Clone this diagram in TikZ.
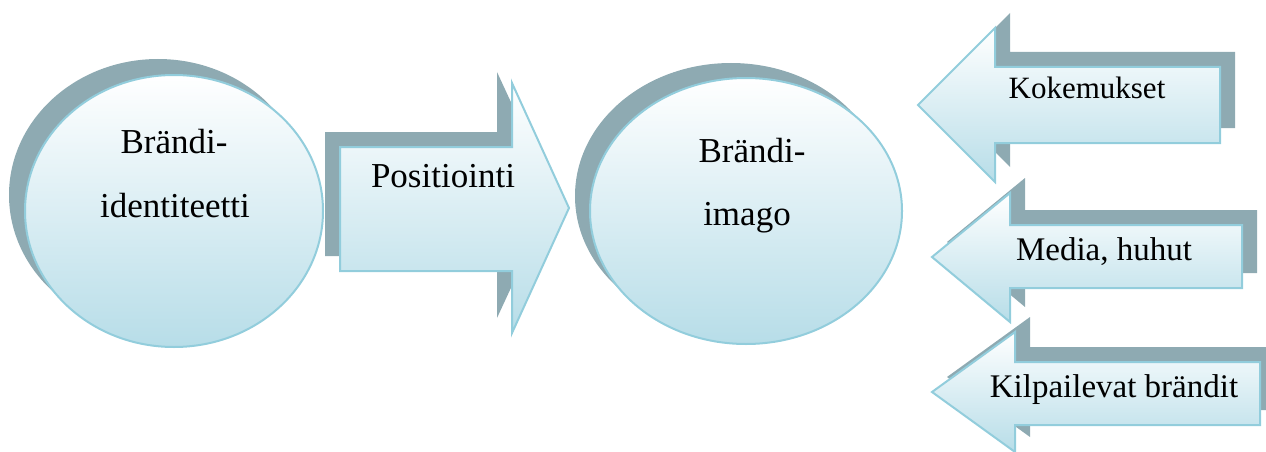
\documentclass[tikz,border=0pt]{standalone}
\usepackage{fontspec}
\setmainfont{Liberation Serif}
\definecolor{shadowc}{RGB}{142,170,178}
\definecolor{borderc}{RGB}{146,205,220}
\definecolor{fillc}{RGB}{183,221,232}
\begin{document}
\begin{tikzpicture}[x=1pt,y=-1pt,
  shade/.style={fill=shadowc,draw=none},
  mainshape/.style={top color=white,bottom color=fillc,draw=borderc,line width=2pt,line join=miter},
  lbl/.style={anchor=base,inner sep=0pt,font=\fontsize{35}{42}\selectfont},
  lbls/.style={anchor=base,inner sep=0pt,font=\fontsize{33}{40}\selectfont}]
\useasboundingbox (0,0) rectangle (1266,452);
% ellipse 1
\fill[shadowc] (158,195) ellipse [x radius=149,y radius=136];
\path[mainshape] (174,211) ellipse [x radius=149,y radius=136];
% ellipse 2
\fill[shadowc] (731,196) ellipse [x radius=156,y radius=133];
\path[mainshape] (746,211) ellipse [x radius=156,y radius=133];
% right arrow
\path[shade] (325,132) -- (497,132) -- (497,72) -- (554,195) -- (497,318) -- (497,256) -- (325,256) -- cycle;
\path[mainshape] (340,147) -- (512,147) -- (512,83) -- (569,208) -- (512,333) -- (512,271) -- (340,271) -- cycle;
% left arrow 1
\path[shade] (1235,52) -- (1010,52) -- (1010,13) -- (933,90) -- (1010,167) -- (1010,128) -- (1235,128) -- cycle;
\path[mainshape] (1220,67) -- (995,67) -- (995,28) -- (918,105) -- (995,182) -- (995,143) -- (1220,143) -- cycle;
% left arrow 2
\path[shade] (1257,210) -- (1025,210) -- (1025,178) -- (947,242) -- (1025,307) -- (1025,273) -- (1257,273) -- cycle;
\path[mainshape] (1242,225) -- (1010,225) -- (1010,193) -- (932,257) -- (1010,322) -- (1010,288) -- (1242,288) -- cycle;
% left arrow 3
\path[shade] (1275,347) -- (1030,347) -- (1030,317) -- (947,377) -- (1030,437) -- (1030,410) -- (1275,410) -- cycle;
\path[mainshape] (1260,362) -- (1015,362) -- (1015,332) -- (932,392) -- (1015,452) -- (1015,425) -- (1260,425) -- cycle;
% labels
\node[lbl] (t1a) at (174,153) {Brändi-};
\node[lbl] (t1b) at (175,217) {identiteetti};
\node[lbl] (t2) at (443,187) {Positiointi};
\node[lbl] (t3a) at (752,162) {Brändi-};
\node[lbl] (t3b) at (747,225) {imago};
\node[lbls,font=\fontsize{31}{40}\selectfont] (t4) at (1087,98) {Kokemukset};
\node[lbls] (t5) at (1104,260) {Media, huhut};
\node[lbls] (t6) at (1114,397) {Kilpailevat brändit};
\end{tikzpicture}
\end{document}
